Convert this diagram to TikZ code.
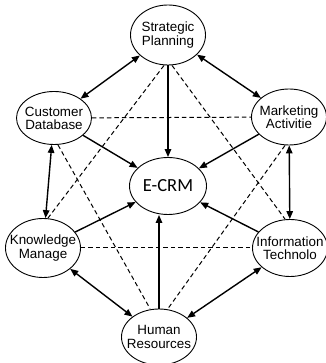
\documentclass[tikz,border=0pt]{standalone}
\usepackage{fontspec}
\setmainfont{Liberation Sans}
\newfontfamily\hubfont{Carlito}
\usetikzlibrary{shapes.geometric, arrows.meta}

\begin{document}
\begin{tikzpicture}[
        x=1pt, y=1pt,
        actor/.style={ellipse, draw=black, line width=0.9pt, fill=white, align=center, inner sep=-9pt, minimum width=75pt, minimum height=56pt, font=\fontsize{13.4}{13.2}\selectfont},
        hub/.style={actor, minimum width=77pt, minimum height=57pt, font=\hubfont\fontsize{18.5}{19}\selectfont},
        link/.style={{Triangle[length=8pt, width=6.5pt]}-{Triangle[length=8pt, width=6.5pt]}, line width=1.4pt},
        feed/.style={-{Triangle[length=8pt, width=6.5pt]}, line width=1.4pt},
        weak/.style={dashed, dash pattern=on 4.5pt off 3pt, line width=1pt}
    ]
    \useasboundingbox (0,0) rectangle (325,363);

    % Nodes
    \node[hub] (ecrm) at (168,177) {E-CRM};
    \node[actor, minimum height=60pt] (sp) at (168,328) {Strategic\\Planning};
    \node[actor, minimum height=53pt] (cd) at (54,245) {Customer\\Database};
    \node[actor] (ma) at (289,246) {Marketing\\Activitie};
    \node[actor, minimum height=59pt] (km) at (43,115) {Knowledge\\Manage};
    \node[actor, minimum height=57pt] (it) at (290,115) {Information\\Technolo};
    \node[actor] (hr) at (159,26) {Human\\Resources};

    % Dashed cross links
    \draw[weak] (cd) -- (ma);
    \draw[weak] (km) -- (it);
    \draw[weak] ([xshift=-4pt]sp.south) -- ([xshift=5pt]km.north);
    \draw[weak] ([xshift=4pt]sp.south) -- ([xshift=-5pt]it.north);
    \draw[weak] ([xshift=4pt]cd.south) -- ([xshift=-9pt]hr.north);
    \draw[weak] ([xshift=-4pt]ma.south) -- ([xshift=9pt]hr.north);

    % Two-way links round the ring
    \draw[link] (sp) -- (cd);
    \draw[link] (sp) -- (ma);
    \draw[link] (cd) -- (km);
    \draw[link] (ma) -- (it);
    \draw[link] (km) -- (hr);
    \draw[link] (it) -- (hr);

    % Everything feeds E-CRM
    \draw[feed] (sp.south) -- (ecrm.north);
    \draw[feed] (cd) -- (ecrm);
    \draw[feed] (ma) -- (ecrm);
    \draw[feed] (km) -- (ecrm);
    \draw[feed] (it) -- (ecrm);
    \draw[feed] (hr.north) -- (hr.north |- ecrm.south);

\end{tikzpicture}
\end{document}
